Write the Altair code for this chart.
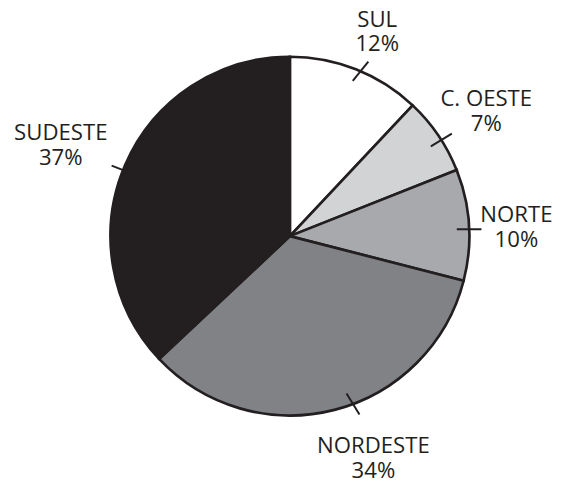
import altair as alt
import pandas as pd

# Data
regions = ["SUL", "C. OESTE", "NORTE", "NORDESTE", "SUDESTE"]
shares = [12, 7, 10, 34, 37]
colors = ["#ffffff", "#d1d3d4", "#a7a9ac", "#808285", "#231f20"]

# Label layout nudges (annotation placement, degrees / pixels)
label_angle_nudge = [1.6, 1.8, 1.4, -6.2, -1.8]
label_radius = [225, 236, 230, 241, 250]
leader_tilt = [16, 1, 2, -11, 0]

df = pd.DataFrame({
    "region": regions,
    "share": shares,
    "order": list(range(len(regions))),
    "label": [f"{r}\n{s}%" for r, s in zip(regions, shares)],
    "nudge": label_angle_nudge,
    "lrad": label_radius,
    "tilt": leader_tilt,
})

# Layout
W, H = 555, 472
CX, CY, R = 286, 228, 182
HALF = 12.5
LH = 25
INK = "#231f20"

base = alt.Chart(df)

arcs = base.mark_arc(outerRadius=R, stroke=INK, strokeWidth=2.7).encode(
    theta=alt.Theta("share:Q", stack=True),
    order=alt.Order("order:Q"),
    color=alt.Color("region:N", scale=alt.Scale(domain=regions, range=colors), legend=None),
    x=alt.value(CX),
    y=alt.value(CY),
)

geo = (
    base.transform_joinaggregate(total="sum(share)")
    .transform_window(cum="sum(share)", sort=[alt.SortField("order")], frame=[None, 0])
    .transform_calculate(
        ang="(datum.cum - datum.share/2) / datum.total * 2 * PI + datum.nudge * PI / 180"
    )
    .transform_calculate(
        dir="datum.ang + datum.tilt * PI / 180",
        px=f"{CX} + {R} * sin(datum.ang)",
        py=f"{CY} - {R} * cos(datum.ang)",
    )
    .transform_calculate(
        x1=f"datum.px - {HALF} * sin(datum.dir)",
        y1=f"datum.py + {HALF} * cos(datum.dir)",
        x2=f"datum.px + {HALF} * sin(datum.dir)",
        y2=f"datum.py - {HALF} * cos(datum.dir)",
        tx=f"{CX} + datum.lrad * sin(datum.ang)",
        ty=f"{CY} - datum.lrad * cos(datum.ang)",
    )
)

leaders = geo.mark_rule(stroke=INK, strokeWidth=2).encode(
    x=alt.X("x1:Q", scale=None, axis=None),
    y=alt.Y("y1:Q", scale=None, axis=None),
    x2="x2:Q",
    y2="y2:Q",
)

labels = geo.mark_text(
    font="Open Sans", fontSize=22.5, lineBreak="\n", lineHeight=LH, dy=-LH / 2,
    color=INK, align="center", baseline="middle",
).encode(
    x=alt.X("tx:Q", scale=None, axis=None),
    y=alt.Y("ty:Q", scale=None, axis=None),
    text="label:N",
)

chart = (
    alt.layer(arcs, leaders, labels)
    .properties(width=W, height=H, padding=0, autosize=alt.AutoSizeParams(type="none"))
    .configure_view(stroke=None)
)

chart.save("out.html", embed_options={"renderer": "svg", "actions": False})
